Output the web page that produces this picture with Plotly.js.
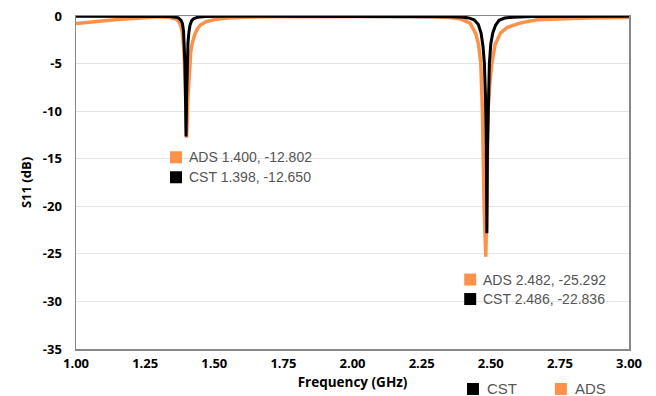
<!DOCTYPE html>
<html><head><meta charset="utf-8">
<script src="https://cdn.plot.ly/plotly-3.0.1.min.js"></script>
<style>html,body{margin:0;padding:0;background:#fff}#chart{width:656px;height:396px}</style>
</head><body><div id="chart"></div>
<script>
// ---- data ----
const adsFreq = [1.00,1.05,1.09,1.15,1.21,1.27,1.30,1.34,1.36,1.37,1.38,1.385,1.39,1.395,1.400,1.405,1.41,1.415,1.42,1.43,1.44,1.45,1.47,1.50,1.55,1.60,1.70,1.80,2.00,2.20,2.30,2.34,2.39,2.425,2.445,2.456,2.464,2.470,2.476,2.482,2.486,2.490,2.497,2.504,2.516,2.535,2.56,2.605,2.666,2.75,2.85,2.97,3.00];
const adsS11  = [-0.80,-0.65,-0.50,-0.36,-0.25,-0.12,-0.08,-0.15,-0.30,-0.50,-1.10,-1.80,-3.50,-7.00,-12.802,-8.50,-5.50,-3.80,-2.90,-1.90,-1.30,-0.95,-0.60,-0.38,-0.22,-0.14,-0.08,-0.06,-0.05,-0.06,-0.08,-0.12,-0.30,-0.75,-1.80,-3.00,-5.00,-10.00,-20.00,-25.292,-20.00,-10.00,-7.00,-5.00,-3.00,-1.80,-1.20,-0.75,-0.40,-0.28,-0.22,-0.17,-0.16];
const cstFreq = [1.00,1.10,1.20,1.30,1.34,1.36,1.37,1.38,1.385,1.389,1.392,1.394,1.396,1.398,1.400,1.402,1.405,1.408,1.412,1.418,1.425,1.44,1.47,1.55,1.80,2.00,2.20,2.30,2.36,2.40,2.42,2.44,2.455,2.465,2.472,2.477,2.481,2.484,2.486,2.488,2.491,2.495,2.500,2.507,2.517,2.53,2.55,2.58,2.65,2.80,3.00];
const cstS11  = [-0.02,-0.02,-0.02,-0.03,-0.06,-0.12,-0.20,-0.45,-0.80,-1.60,-3.00,-5.00,-8.50,-12.65,-8.50,-5.00,-2.80,-1.80,-1.00,-0.50,-0.30,-0.12,-0.06,-0.03,-0.02,-0.02,-0.02,-0.03,-0.07,-0.12,-0.20,-0.40,-0.90,-1.80,-3.20,-5.00,-8.50,-14.00,-22.836,-14.00,-8.00,-5.00,-3.00,-1.80,-1.00,-0.45,-0.22,-0.12,-0.06,-0.03,-0.02];

const seriesNames  = ['CST', 'ADS'];
const seriesColors = {CST: '#000000', ADS: '#fd914a'};

// peak read-outs shown on the chart
const peakSeries = ['ADS', 'CST', 'ADS', 'CST'];
const peakFreq   = [1.400, 1.398, 2.482, 2.486];
const peakS11    = [-12.802, -12.650, -25.292, -22.836];

const xTickVals = [1.00,1.25,1.50,1.75,2.00,2.25,2.50,2.75,3.00];
const yTickVals = [0,-5,-10,-15,-20,-25,-30,-35];

// ---- layout helpers (positions of the read-out boxes) ----
const labelX = [1.34, 1.34, 2.404, 2.404];
const labelY = [-14.85, -16.95, -27.70, -29.75];

const traces = [
  {x: adsFreq, y: adsS11, name: 'ADS', type: 'scatter', mode: 'lines',
   line: {color: seriesColors.ADS, width: 3.5}, showlegend: false, hoverinfo: 'skip'},
  {x: cstFreq, y: cstS11, name: 'CST', type: 'scatter', mode: 'lines',
   line: {color: seriesColors.CST, width: 3}, showlegend: false, hoverinfo: 'skip'}
];

const annotations = [];
const shapes = [];
for (let i = 0; i < peakSeries.length; i++) {
  const s = peakSeries[i];
  shapes.push({type: 'rect', xref: 'x', yref: 'y', xsizemode: 'pixel', ysizemode: 'pixel',
    xanchor: labelX[i], yanchor: labelY[i], x0: 0, x1: 12, y0: -6, y1: 6,
    fillcolor: seriesColors[s], line: {width: 0}});
  annotations.push({xref: 'x', yref: 'y', x: labelX[i], y: labelY[i], xanchor: 'left', yanchor: 'middle',
    xshift: 17, showarrow: false,
    text: s + ' ' + peakFreq[i].toFixed(3) + ', ' + peakS11[i].toFixed(3),
    font: {family: 'Liberation Sans, Arial, sans-serif', size: 14, color: '#555555'}});
}
// legend (bottom right)
const legendX = [0.707, 0.866];
seriesNames.forEach((n, i) => {
  shapes.push({type: 'rect', xref: 'paper', yref: 'paper', xsizemode: 'pixel', ysizemode: 'pixel',
    xanchor: legendX[i], yanchor: -0.12, x0: 0, x1: 12, y0: -6, y1: 6,
    fillcolor: seriesColors[n], line: {width: 0}});
  annotations.push({xref: 'paper', yref: 'paper', x: legendX[i], y: -0.12, xanchor: 'left', yanchor: 'middle',
    xshift: 18, showarrow: false, text: n,
    font: {family: 'Liberation Sans, Arial, sans-serif', size: 15, color: '#555555'}});
});

const tickFont = {family: 'Open Sans, sans-serif', size: 13, color: '#000', weight: 700};

const layout = {
  width: 656, height: 396,
  margin: {l: 76, r: 27, t: 16, b: 47},
  paper_bgcolor: '#fff', plot_bgcolor: '#fff',
  showlegend: false,
  xaxis: {range: [1, 3], tickvals: xTickVals, ticktext: xTickVals.map(v => v.toFixed(2)),
    showgrid: false, zeroline: false, showline: true, mirror: true, linecolor: '#888', linewidth: 1.5,
    ticks: '', tickfont: tickFont, ticklabelstandoff: 2,
    title: {text: 'Frequency (GHz)', font: {family: 'Open Sans, sans-serif', size: 13.5, color: '#000', weight: 700}, standoff: 6}},
  yaxis: {range: [-35, 0], tickvals: yTickVals, ticktext: yTickVals.map(String),
    showgrid: true, gridcolor: '#e4e4e4', gridwidth: 1, zeroline: false,
    showline: true, mirror: true, linecolor: '#888', linewidth: 1.5,
    ticks: '', tickfont: tickFont, ticklabelstandoff: 10,
    title: {text: 'S11 (dB)', font: {family: 'Open Sans, sans-serif', size: 13, color: '#000', weight: 700}, standoff: 8}},
  annotations: annotations,
  shapes: shapes
};

Plotly.newPlot('chart', traces, layout, {displayModeBar: false, staticPlot: true});
</script>
</body></html>
